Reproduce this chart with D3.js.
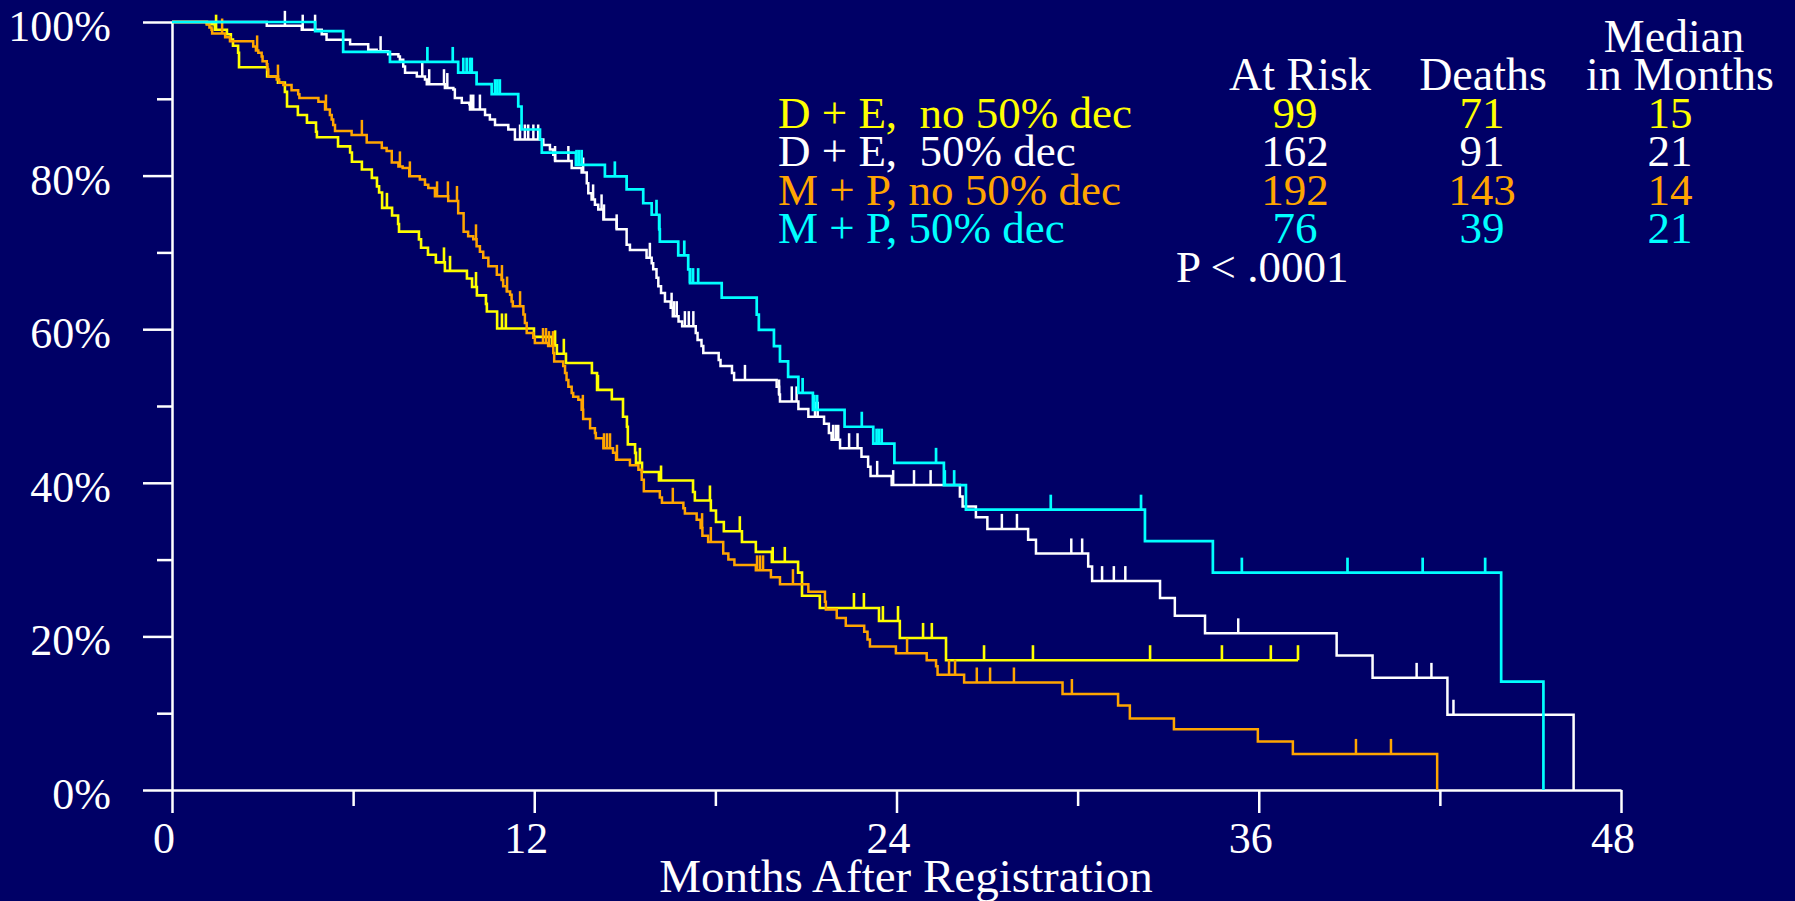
<!DOCTYPE html>
<html>
<head>
<meta charset="utf-8">
<script src="https://cdn.jsdelivr.net/npm/d3@7"></script>
<style>
  html, body { margin: 0; padding: 0; background: #000066; overflow: hidden; }
  svg { display: block; }
  text { font-family: "Liberation Serif", "Times New Roman", serif; }
</style>
</head>
<body>
<svg id="chart" width="1795" height="901"></svg>
<script>
// ---- Kaplan-Meier step data: [months, percent surviving after the drop] ----
const deNoDecSteps = [
  [1.16,99.7],[1.42,99.0],[1.82,98.4],[1.95,97.7],[2.02,96.9],[2.19,96.0],[2.22,94.1],[3.15,92.9],
  [3.51,92.1],[3.74,90.9],[3.81,89.0],[4.17,87.9],[4.47,86.9],[4.77,85.7],[4.80,85.0],[5.50,83.8],
  [5.90,83.0],[5.96,81.8],[6.29,80.8],[6.62,79.7],[6.79,78.6],[6.86,77.8],[6.96,75.8],[7.29,74.8],
  [7.49,73.7],[7.52,72.7],[8.18,71.7],[8.25,70.6],[8.48,69.7],[8.74,68.7],[9.04,67.6],[9.77,66.6],
  [9.94,65.5],[10.10,64.4],[10.40,63.3],[10.43,62.3],[10.77,60.1],[11.99,59.0],[12.59,57.9],[12.75,56.8],
  [13.05,55.6],[13.91,54.3],[14.08,52.1],[14.57,50.9],[14.94,48.6],[15.07,47.3],[15.10,45.0],[15.34,43.9],
  [15.37,42.6],[15.57,41.4],[16.13,40.3],[17.26,38.8],[17.32,37.7],[17.85,36.4],[18.02,34.9],[18.28,33.7],
  [18.88,32.3],[19.34,31.0],[19.87,29.7],[20.74,28.3],[20.87,25.3],[21.46,23.7],[23.42,22.0],[24.11,19.8],
  [25.64,16.9]
];
const deNoDecCensor = [1.46,7.12,9.01,9.21,10.07,10.93,11.06,12.69,12.98,14.11,15.50,16.20,17.82,18.81,
  19.90,20.30,22.59,22.92,23.55,24.05,24.88,25.17,26.90,28.52,32.40,34.78,36.40,37.30];

const deDecSteps = [
  [3.14,99.5],[4.30,99.0],[4.96,98.4],[5.12,97.7],[5.90,97.1],[6.50,96.4],[6.78,96.2],[7.16,95.8],
  [7.50,95.5],[7.55,95.1],[7.66,94.2],[7.72,93.4],[8.11,92.9],[8.38,92.5],[8.44,91.9],[9.04,91.4],
  [9.32,91.2],[9.37,90.1],[9.60,89.5],[9.85,89.3],[9.87,88.6],[10.37,87.9],[10.53,87.3],[10.70,86.6],
  [11.14,86.0],[11.36,84.7],[12.30,84.0],[12.52,83.4],[12.63,82.7],[12.69,81.9],[13.24,81.0],[13.57,80.4],
  [13.74,79.0],[13.79,77.7],[13.90,76.9],[14.01,76.2],[14.12,75.6],[14.29,74.3],[14.73,73.0],[15.06,71.0],
  [15.17,70.3],[15.72,69.3],[15.89,68.6],[15.94,67.8],[16.05,66.7],[16.11,65.6],[16.20,64.7],[16.33,63.6],
  [16.52,62.8],[16.59,61.7],[16.78,61.0],[16.90,60.4],[17.35,59.5],[17.41,58.6],[17.54,57.8],[17.60,56.9],
  [18.11,56.0],[18.17,55.2],[18.55,54.3],[18.62,53.4],[20.03,52.5],[20.11,51.5],[20.14,50.6],[20.75,49.6],
  [21.08,48.6],[21.60,47.7],[21.76,46.5],[21.85,45.6],[22.13,44.5],[22.84,43.4],[23.06,42.1],[23.14,40.9],
  [23.84,39.7],[26.10,38.2],[26.19,36.9],[26.63,35.5],[27.01,34.0],[28.36,32.6],[28.62,30.8],[30.35,29.1],
  [30.48,27.2],[32.73,25.0],[33.22,22.7],[34.22,20.4],[38.58,17.5],[39.77,14.6],[42.25,9.8],[46.43,0]
];
const deDecCensor = [3.74,4.33,4.74,6.91,8.29,8.52,9.01,9.12,9.90,9.98,10.20,11.53,11.69,11.80,11.97,12.13,
  12.69,13.13,13.62,13.95,14.23,14.31,14.73,15.83,16.55,16.63,16.72,16.99,17.12,17.27,18.98,20.11,20.53,
  20.69,21.30,21.39,21.90,21.99,22.07,22.43,22.71,23.36,23.89,24.58,25.13,27.49,27.99,29.79,30.15,30.81,
  31.20,31.58,35.32,41.23,41.72,42.45];

const mpNoDecSteps = [
  [1.15,99.7],[1.24,99.3],[1.31,99.0],[1.33,98.5],[1.76,98.0],[1.92,97.5],[2.69,96.8],[2.78,96.3],
  [2.86,96.0],[2.97,95.5],[3.00,94.9],[3.14,94.5],[3.16,93.8],[3.19,92.9],[3.47,92.5],[3.55,92.1],
  [3.69,91.8],[3.96,91.1],[4.18,90.6],[4.22,90.1],[4.85,89.6],[5.07,88.6],[5.23,87.9],[5.29,87.3],
  [5.34,86.6],[5.40,85.8],[5.95,85.3],[6.45,84.3],[6.95,83.6],[7.11,83.2],[7.28,81.7],[7.50,81.2],
  [7.64,81.0],[7.86,79.9],[8.21,79.5],[8.38,78.8],[8.49,78.4],[8.71,77.3],[9.15,76.7],[9.48,75.1],
  [9.66,72.7],[9.81,72.1],[9.98,71.7],[10.09,70.8],[10.20,70.1],[10.31,69.3],[10.48,68.2],[10.76,67.1],
  [10.92,66.4],[10.97,65.6],[11.09,64.9],[11.20,64.5],[11.25,63.6],[11.29,63.0],[11.64,61.9],[11.69,60.8],
  [11.75,59.5],[11.97,58.9],[12.02,58.2],[12.46,57.8],[12.63,56.9],[12.66,55.8],[12.96,55.2],[13.02,54.3],
  [13.07,53.4],[13.13,52.5],[13.24,51.7],[13.29,51.2],[13.46,50.8],[13.57,49.5],[13.62,48.3],[13.85,47.1],
  [14.01,46.5],[14.04,45.8],[14.29,44.5],[14.61,43.9],[14.71,43.0],[15.17,42.3],[15.45,41.7],[15.56,40.4],
  [15.63,38.9],[16.16,38.1],[16.23,37.4],[16.94,36.7],[16.99,36.0],[17.38,35.2],[17.51,34.1],[17.57,33.1],
  [17.76,32.3],[18.26,30.8],[18.43,30.0],[18.63,29.3],[19.34,28.6],[19.84,27.7],[20.14,26.8],[21.08,25.8],
  [21.63,24.5],[21.66,23.5],[22.02,22.4],[22.32,21.4],[22.93,20.6],[23.04,19.6],[23.12,18.7],[23.98,17.8],
  [25.00,16.9],[25.31,16.1],[25.36,15.0],[26.24,14.0],[29.50,12.5],[31.34,11.0],[31.73,9.3],[33.19,7.9],
  [35.97,6.3],[37.13,4.7],[41.91,0]
];
const mpNoDecCensor = [1.66,2.82,3.51,5.10,6.29,7.55,7.88,8.78,9.14,9.44,10.07,10.93,11.10,11.53,12.29,
  12.39,12.49,12.62,13.61,14.31,14.41,14.51,14.74,16.59,17.56,17.85,19.38,19.48,19.58,20.57,24.35,25.74,
  25.94,26.66,27.10,27.89,29.81,39.22,40.38];

const mpDecSteps = [
  [4.74,98.8],[5.67,96.1],[7.22,94.8],[9.48,93.4],[10.09,91.9],[10.59,90.6],[11.47,89.0],[11.58,86.0],
  [12.19,84.7],[12.25,83.0],[13.38,81.4],[14.34,79.9],[15.06,78.2],[15.61,76.4],[15.89,74.9],[16.14,73.0],
  [16.16,71.4],[16.77,69.6],[17.10,67.8],[17.16,66.0],[18.21,64.1],[19.37,61.9],[19.44,59.9],[19.94,57.8],
  [20.14,55.8],[20.41,53.8],[20.75,51.7],[21.23,49.5],[22.28,47.3],[23.23,45.1],[23.93,42.6],[25.57,39.7],
  [26.30,36.5],[32.23,32.4],[34.48,28.3],[44.03,14.1],[45.43,0]
];
const mpDecCensor = [8.46,9.30,9.65,9.76,9.87,9.93,10.70,10.78,10.86,13.40,13.48,13.57,14.67,16.05,16.14,
  16.97,17.16,17.26,17.43,20.89,21.28,21.37,22.85,23.34,23.42,23.51,25.31,25.60,25.91,29.11,32.10,35.44,
  38.94,41.43,43.50];

// ---- legend / summary table ----
const groupLabels = ["D + E,  no 50% dec", "D + E,  50% dec", "M + P, no 50% dec", "M + P, 50% dec"];
const groupColors = ["#ffff00", "#ffffff", "#ffa500", "#00ffff"];
const atRisk = [99, 162, 192, 76];
const deaths = [71, 91, 143, 39];
const medianMonths = [15, 21, 14, 21];
const pValueText = "P < .0001";

// ---- axis ticks ----
const xMajorTicks = [0, 12, 24, 36, 48];
const xMinorTicks = [6, 18, 30, 42];
const yMajorTicks = [0, 20, 40, 60, 80, 100];
const yMinorTicks = [10, 30, 50, 70, 90];
const xTitle = "Months After Registration";

const W = 1795, H = 901;
const BG = "#000066";
const svg = d3.select("#chart");
svg.append("rect").attr("width", W).attr("height", H).attr("fill", BG);

const x = d3.scaleLinear().domain([0, 48]).range([172, 1621]);
const y = d3.scaleLinear().domain([0, 100]).range([790, 22]);

const FONT = '"Liberation Serif", "Times New Roman", serif';

function styleAxis(g, fontSize) {
  g.attr("color", "#ffffff").attr("font-family", FONT).attr("font-size", fontSize);
  g.selectAll("line, path").attr("stroke", "#ffffff").attr("stroke-width", 2.5);
}

// y axis: major + minor ticks
const gy = svg.append("g").attr("transform", `translate(${x(0)},0)`)
  .call(d3.axisLeft(y).tickValues(yMajorTicks).tickSize(29).tickSizeOuter(0)
    .tickPadding(32).tickFormat(d => d + "%"));
styleAxis(gy, 44);
gy.selectAll("text").attr("dy", "0.42em");

const gyMinor = svg.append("g").attr("transform", `translate(${x(0)},0)`)
  .call(d3.axisLeft(y).tickValues(yMinorTicks).tickSize(15).tickFormat(""));
gyMinor.select(".domain").remove();
styleAxis(gyMinor, 44);

// x axis: major + minor ticks
const gx = svg.append("g").attr("transform", `translate(0,${y(0)})`)
  .call(d3.axisBottom(x).tickValues(xMajorTicks).tickSize(23).tickSizeOuter(0)
    .tickPadding(9).tickFormat(d3.format("d")));
styleAxis(gx, 44);
gx.selectAll("text").attr("dx", -8.5);

const gxMinor = svg.append("g").attr("transform", `translate(0,${y(0)})`)
  .call(d3.axisBottom(x).tickValues(xMinorTicks).tickSize(16).tickFormat(""));
gxMinor.select(".domain").remove();
styleAxis(gxMinor, 44);

svg.append("text")
  .attr("x", 906).attr("y", 892)
  .attr("text-anchor", "middle")
  .attr("font-size", 47).attr("fill", "#ffffff")
  .text(xTitle);

// ---- survival curves ----
const groups = [
  { steps: deNoDecSteps, censor: deNoDecCensor, color: groupColors[0], width: 2.6 },
  { steps: mpNoDecSteps, censor: mpNoDecCensor, color: groupColors[2], width: 2.5 },
  { steps: deDecSteps,   censor: deDecCensor,   color: groupColors[1], width: 2.5 },
  { steps: mpDecSteps,   censor: mpDecCensor,   color: groupColors[3], width: 2.7 }
];

const stepLine = d3.line()
  .x(d => x(d[0]))
  .y(d => y(d[1]))
  .curve(d3.curveStepAfter);

const CENSOR_LEN = 15;
const plot = svg.append("g");

groups.forEach(gr => {
  const pts = [[0, 100]].concat(gr.steps);
  const lastStep = pts[pts.length - 1];
  const lastCensor = d3.max(gr.censor);
  // curve runs on to the last censored observation if it outlasts the last death
  if (lastStep[1] > 0 && lastCensor > lastStep[0]) pts.push([lastCensor, lastStep[1]]);

  const g = plot.append("g");
  g.append("path")
    .attr("d", stepLine(pts))
    .attr("fill", "none")
    .attr("stroke", gr.color)
    .attr("stroke-width", gr.width)
    .attr("stroke-linejoin", "miter");

  const bis = d3.bisector(d => d[0]).right;
  const survAt = t => pts[Math.max(0, bis(pts, t) - 1)][1];

  g.selectAll("line.censor")
    .data(gr.censor)
    .join("line")
    .attr("class", "censor")
    .attr("x1", d => x(d)).attr("x2", d => x(d))
    .attr("y1", d => y(survAt(d)))
    .attr("y2", d => y(survAt(d)) - CENSOR_LEN)
    .attr("stroke", gr.color)
    .attr("stroke-width", gr.width);
});

// ---- legend ----
const ROW0 = 128, ROW_H = 38.4;
const legend = svg.append("g").attr("font-size", 45);
legend.selectAll("text")
  .data(groupLabels)
  .join("text")
  .attr("x", 778)
  .attr("y", (d, i) => ROW0 + i * ROW_H)
  .attr("fill", (d, i) => groupColors[i])
  .style("white-space", "pre")
  .text(d => d);

// ---- summary table ----
const table = svg.append("g").attr("font-size", 46).attr("text-anchor", "middle").attr("fill", "#ffffff");
table.append("text").attr("x", 1674).attr("y", 52).text("Median");
table.append("text").attr("x", 1680).attr("y", 90).text("in Months");
table.append("text").attr("x", 1300).attr("y", 90).text("At Risk");
table.append("text").attr("x", 1483).attr("y", 90).text("Deaths");

const cols = [
  { values: atRisk, cx: 1295 },
  { values: deaths, cx: 1482 },
  { values: medianMonths, cx: 1670 }
];
cols.forEach(col => {
  table.append("g").selectAll("text")
    .data(col.values)
    .join("text")
    .attr("x", col.cx)
    .attr("y", (d, i) => ROW0 + i * ROW_H)
    .attr("font-size", 45)
    .attr("fill", (d, i) => groupColors[i])
    .text(d => d);
});

svg.append("text")
  .attr("x", 1176).attr("y", 282)
  .attr("font-size", 45).attr("fill", "#ffffff")
  .text(pValueText);
</script>
</body>
</html>
